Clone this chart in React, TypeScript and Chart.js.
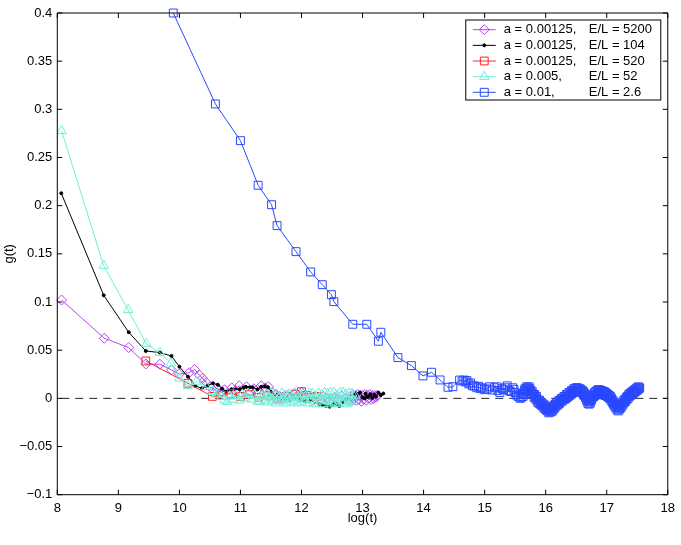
import { useEffect, useRef } from "react";
import { Chart, registerables } from "chart.js";

Chart.register(...registerables);

// tick values
const xTickValues = [8, 9, 10, 11, 12, 13, 14, 15, 16, 17, 18];
const yTickValues = [-0.1, -0.05, 0, 0.05, 0.1, 0.15, 0.2, 0.25, 0.3, 0.35, 0.4];

// legend text
const aLabels = ["a = 0.00125,", "a = 0.00125,", "a = 0.00125,", "a = 0.005,", "a = 0.01,"];
const elLabels = ["E/L = 5200", "E/L = 104", "E/L = 520", "E/L = 52", "E/L = 2.6"];

// a = 0.00125, E/L = 5200
const t5200 = [
  8.07, 8.77, 9.17, 9.45, 9.68, 9.87, 10.0, 10.16, 10.25, 10.33, 10.38, 10.44, 10.5, 10.56,
  10.62, 10.68, 10.74, 10.8, 10.86, 10.92, 10.98, 11.04, 11.1, 11.16, 11.22, 11.28, 11.34,
  11.4, 11.46, 11.52, 11.58, 11.64, 11.7, 11.76, 11.82, 11.88, 11.94, 12.0, 12.06, 12.12,
  12.18, 12.24, 12.3, 12.36, 12.42, 12.48, 12.54, 12.6, 12.66, 12.72, 12.78, 12.8, 12.82,
  12.84, 12.86, 12.88, 12.9, 12.92, 12.94, 12.96, 12.98, 13.0, 13.02, 13.04, 13.06, 13.08,
  13.1, 13.12, 13.14, 13.16, 13.18, 13.2, 13.22, 13.24,
];
const g5200 = [
  0.1021, 0.0624, 0.0527, 0.0357, 0.0354, 0.0295, 0.0253, 0.0267, 0.03, 0.024, 0.0209, 0.0165,
  0.012, 0.008, 0.011, 0.006, 0.009, 0.004, 0.011, 0.008, 0.013, 0.009, 0.012, 0.007, 0.01,
  0.009, 0.013, 0.011, 0.012, 0.006, 0.004, 0.002, 0.0, 0.003, 0.001, 0.005, 0.003, 0.006,
  0.002, 0.0, -0.002, 0.001, -0.001, 0.002, 0.0, -0.002, 0.001, -0.001, 0.002, 0.0, -0.002,
  0.002, -0.002, 0.003, -0.001, 0.003, -0.002, 0.004, -0.001, 0.003, -0.003, 0.003, -0.001,
  0.004, -0.002, 0.003, 0.0, 0.004, -0.001, 0.003, 0.0, 0.003, 0.001, 0.003,
];

// a = 0.00125, E/L = 104
const t104 = [
  8.065, 8.76, 9.17, 9.45, 9.68, 9.87, 10.0, 10.14, 10.26, 10.37, 10.46, 10.55, 10.63, 10.7,
  10.77, 10.85, 10.92, 10.99, 11.05, 11.09, 11.15, 11.2, 11.28, 11.34, 11.4, 11.45, 11.5,
  11.58, 11.66, 11.74, 11.82, 11.9, 11.98, 12.06, 12.14, 12.22, 12.3, 12.35, 12.4, 12.46,
  12.52, 12.57, 12.62, 12.68, 12.74, 12.8, 12.86, 12.89, 12.92, 12.96, 13.0, 13.03, 13.05,
  13.08, 13.1, 13.13, 13.16, 13.19, 13.22, 13.26, 13.3, 13.34,
];
const g104 = [
  0.2129, 0.107, 0.0686, 0.0492, 0.0475, 0.044, 0.0329, 0.0225, 0.0129, 0.0105, 0.013, 0.0157,
  0.014, 0.01, 0.007, 0.0094, 0.0094, 0.0094, 0.011, 0.012, 0.0115, 0.0115, 0.0094, 0.012,
  0.0125, 0.0115, 0.007, 0.0035, 0.002, 0.0, -0.001, 0.001, -0.002, -0.003, -0.002, -0.004,
  -0.006, -0.0068, -0.008, -0.0086, -0.007, -0.0058, -0.008, -0.004, -0.001, 0.002, 0.0035,
  0.0055, 0.004, 0.006, 0.001, 0.0, 0.005, 0.0015, 0.002, 0.0045, 0.0005, 0.004, 0.002,
  0.006, 0.0035, 0.005,
];

// a = 0.00125, E/L = 520
const t520 = [9.45, 10.14, 10.54, 10.7, 10.85, 11.0, 11.15, 11.3, 11.45, 11.6, 11.75, 11.9, 12.0, 12.08, 12.15, 12.25];
const g520 = [0.0388, 0.0157, 0.002, 0.003, 0.005, 0.002, 0.004, 0.001, 0.003, 0.0, 0.002, 0.004, 0.007, 0.003, 0.001, 0.002];

// a = 0.005, E/L = 52
const t52 = [
  8.07, 8.76, 9.16, 9.46, 9.68, 9.86, 10.0, 10.14, 10.28, 10.44, 10.55, 10.62, 10.69, 10.74,
  10.78, 10.83, 10.88, 10.93, 10.98, 11.03, 11.08, 11.13, 11.18, 11.23, 11.28, 11.31, 11.35,
  11.38, 11.4, 11.43, 11.45, 11.48, 11.5, 11.53, 11.55, 11.58, 11.6, 11.63, 11.65, 11.68,
  11.7, 11.73, 11.75, 11.78, 11.8, 11.83, 11.85, 11.88, 11.9, 11.93, 11.95, 11.98, 12.0,
  12.03, 12.05, 12.08, 12.1, 12.13, 12.15, 12.18, 12.2, 12.23, 12.25, 12.28, 12.3, 12.33,
  12.35, 12.38, 12.4, 12.43, 12.45, 12.48, 12.5, 12.53, 12.55, 12.58, 12.6, 12.63, 12.65,
  12.68, 12.7, 12.73, 12.75, 12.78, 12.8, 12.83, 12.85, 12.88,
];
const g52 = [
  0.2776, 0.1378, 0.0918, 0.0565, 0.0475, 0.0364, 0.0208, 0.0129, 0.0174, 0.0121, 0.007,
  0.004, 0.0018, -0.002, -0.0034, 0.002, -0.001, 0.003, -0.002, 0.004, 0.0, 0.005, -0.001,
  0.003, -0.003, -0.0035, 0.002, 0.003, -0.002, 0.004, -0.004, 0.001, 0.005, -0.003, 0.002,
  -0.005, 0.004, 0.0, -0.003, 0.005, -0.002, 0.003, -0.005, 0.001, 0.004, -0.004, 0.002,
  -0.002, 0.005, -0.005, 0.001, 0.004, -0.004, 0.005, -0.002, 0.003, -0.005, 0.005, -0.001,
  0.005, -0.005, 0.002, -0.006, 0.005, -0.003, 0.004, -0.006, 0.006, -0.002, 0.005, -0.006,
  0.006, -0.004, 0.006, -0.005, 0.003, -0.006, 0.006, -0.003, 0.006, -0.005, 0.004, -0.006,
  0.005, -0.004, 0.005, -0.002, 0.003,
];

// a = 0.01, E/L = 2.6
const t26 = [
  9.9, 10.59, 11.0, 11.29, 11.51, 11.6, 11.91, 12.15, 12.34, 12.49, 12.53, 12.84, 13.07,
  13.26, 13.3, 13.58, 13.8, 13.99, 14.13, 14.27, 14.4, 14.48, 14.59, 14.63, 14.66, 14.69,
  14.71, 14.74, 14.77, 14.8, 14.83, 14.87, 14.9, 14.93, 14.96, 15.0, 15.04, 15.08, 15.12,
  15.16, 15.2, 15.22, 15.25, 15.28, 15.31, 15.34, 15.37, 15.4, 15.43, 15.46, 15.48, 15.5,
  15.52, 15.55, 15.58,
  15.6, 15.61, 15.62, 15.63, 15.64, 15.65, 15.66, 15.67, 15.68, 15.69,
  15.7, 15.71, 15.72, 15.73, 15.74, 15.75, 15.76, 15.77, 15.78, 15.79,
  15.8, 15.81, 15.82, 15.83, 15.84, 15.85, 15.86, 15.87, 15.88, 15.89,
  15.9, 15.91, 15.92, 15.93, 15.94, 15.95, 15.96, 15.97, 15.98, 15.99,
  16.0, 16.01, 16.02, 16.03, 16.04, 16.05, 16.06, 16.07, 16.08, 16.09,
  16.1, 16.11, 16.12, 16.13, 16.14, 16.15, 16.16, 16.17, 16.18, 16.19,
  16.2, 16.21, 16.22, 16.23, 16.24, 16.25, 16.26, 16.27, 16.28, 16.29,
  16.3, 16.31, 16.32, 16.33, 16.34, 16.35, 16.36, 16.37, 16.38, 16.39,
  16.4, 16.41, 16.42, 16.43, 16.44, 16.45, 16.46, 16.47, 16.48, 16.49,
  16.5, 16.51, 16.52, 16.53, 16.54, 16.55, 16.56, 16.57, 16.58, 16.59,
  16.6, 16.61, 16.62, 16.63, 16.64, 16.65, 16.66, 16.67, 16.68, 16.69,
  16.7, 16.71, 16.72, 16.73, 16.74, 16.75, 16.76, 16.77, 16.78, 16.79,
  16.8, 16.81, 16.82, 16.83, 16.84, 16.85, 16.86, 16.87, 16.88, 16.89,
  16.9, 16.91, 16.92, 16.93, 16.94, 16.95, 16.96, 16.97, 16.98, 16.99,
  17.0, 17.01, 17.02, 17.03, 17.04, 17.05, 17.06, 17.07, 17.08, 17.09,
  17.1, 17.11, 17.12, 17.13, 17.14, 17.15, 17.16, 17.17, 17.18, 17.19,
  17.2, 17.21, 17.22, 17.23, 17.24, 17.25, 17.26, 17.27, 17.28, 17.29,
  17.3, 17.31, 17.32, 17.33, 17.34, 17.35, 17.36, 17.37, 17.38, 17.39,
  17.4, 17.41, 17.42, 17.43, 17.44, 17.45, 17.46, 17.47, 17.48, 17.49,
  17.5, 17.51, 17.52, 17.53, 17.54,
];
const g26 = [
  0.4, 0.3056, 0.2675, 0.2212, 0.201, 0.1793, 0.1523, 0.1312, 0.118, 0.1076, 0.1004, 0.0769,
  0.0769, 0.0593, 0.0686, 0.0423, 0.034, 0.0233, 0.0271, 0.0191, 0.0115, 0.0121, 0.019,
  0.018, 0.019, 0.017, 0.0185, 0.015, 0.016, 0.013, 0.0129, 0.011, 0.0125, 0.01, 0.011,
  0.009, 0.0098, 0.012, 0.0087, 0.011, 0.012, 0.008, 0.006, 0.01, 0.009, 0.011, 0.013,
  0.008, 0.007, 0.011, 0.0094, 0.006, 0.0035, 0.002, 0.0,
  0.001, 0.004, 0.005, 0.002, 0.004, 0.008, 0.01, 0.007, 0.009, 0.012,
  0.011, 0.008, 0.01, 0.012, 0.01, 0.007, 0.008, 0.005, 0.007, 0.004,
  0.004, 0.001, 0.004, 0.001, -0.001, 0.002, -0.001, -0.004, -0.002, -0.005,
  -0.002, -0.006, -0.004, -0.007, -0.005, -0.008, -0.006, -0.01, -0.007, -0.011,
  -0.009, -0.012, -0.009, -0.013, -0.011, -0.015, -0.011, -0.014, -0.012, -0.014,
  -0.01, -0.013, -0.009, -0.011, -0.007, -0.01, -0.006, -0.008, -0.004, -0.007,
  -0.004, -0.006, -0.002, -0.005, -0.002, -0.003, 0.0, -0.003, 0.0, -0.001,
  0.002, -0.001, 0.002, 0.0, 0.004, 0.001, 0.004, 0.002, 0.006, 0.003,
  0.006, 0.004, 0.008, 0.005, 0.008, 0.006, 0.01, 0.007, 0.01, 0.008,
  0.011, 0.008, 0.011, 0.008, 0.01, 0.007, 0.01, 0.007, 0.009, 0.006,
  0.008, 0.005, 0.007, 0.003, 0.005, 0.001, 0.003, -0.002, 0.0, -0.005,
  -0.003, -0.006, -0.003, -0.005, -0.001, -0.002, 0.002, 0.001, 0.004, 0.002,
  0.006, 0.003, 0.007, 0.004, 0.008, 0.005, 0.009, 0.006, 0.009, 0.006,
  0.008, 0.005, 0.008, 0.004, 0.007, 0.004, 0.007, 0.003, 0.006, 0.003,
  0.005, 0.002, 0.004, 0.001, 0.003, 0.0, 0.002, -0.002, 0.0, -0.004,
  -0.002, -0.006, -0.004, -0.008, -0.006, -0.01, -0.007, -0.012, -0.009, -0.013,
  -0.009, -0.011, -0.007, -0.01, -0.006, -0.008, -0.004, -0.006, -0.002, -0.004,
  -0.001, -0.003, 0.001, -0.001, 0.002, 0.0, 0.004, 0.002, 0.005, 0.003,
  0.006, 0.004, 0.007, 0.005, 0.008, 0.006, 0.009, 0.007, 0.01, 0.008,
  0.011, 0.009, 0.012, 0.01, 0.011,
];

const FONT = "Liberation Sans, Arial, sans-serif";

const pts = (t: number[], g: number[]) => t.map((x, i) => ({ x, y: g[i] }));

function fmtY(v: number) {
  const r = Math.round(v * 100) / 100;
  if (r === 0) return "0";
  return r < 0 ? "\u2212" + String(Math.abs(r)) : String(r);
}

function drawMarker(
  ctx: CanvasRenderingContext2D,
  style: string,
  x: number,
  y: number,
  r: number,
  color: string,
  fill: string
) {
  ctx.beginPath();
  if (style === "rectRot") {
    ctx.moveTo(x, y - r);
    ctx.lineTo(x + r, y);
    ctx.lineTo(x, y + r);
    ctx.lineTo(x - r, y);
    ctx.closePath();
  } else if (style === "rect") {
    const s = r * Math.SQRT1_2;
    ctx.rect(x - s, y - s, 2 * s, 2 * s);
  } else if (style === "triangle") {
    ctx.moveTo(x, y - r);
    ctx.lineTo(x + r * 0.866, y + r * 0.5);
    ctx.lineTo(x - r * 0.866, y + r * 0.5);
    ctx.closePath();
  } else {
    ctx.arc(x, y, r, 0, Math.PI * 2);
  }
  ctx.fillStyle = fill;
  ctx.fill();
  ctx.strokeStyle = color;
  ctx.lineWidth = 1;
  ctx.stroke();
}

// dashed zero line
const zeroLine = {
  id: "zeroLine",
  beforeDatasetsDraw(chart: any) {
    const { ctx, chartArea } = chart;
    const y = chart.scales.y.getPixelForValue(0);
    ctx.save();
    ctx.strokeStyle = "#222";
    ctx.lineWidth = 1;
    ctx.setLineDash([8, 6]);
    ctx.lineDashOffset = -4;
    ctx.beginPath();
    ctx.moveTo(chartArea.left, y);
    ctx.lineTo(chartArea.right, y);
    ctx.stroke();
    ctx.restore();
  },
};

// box with inward ticks on all sides
const frame = {
  id: "frame",
  afterDatasetsDraw(chart: any) {
    const { ctx, chartArea: a } = chart;
    const xs = chart.scales.x;
    const ys = chart.scales.y;
    const len = 5;
    ctx.save();
    ctx.strokeStyle = "#000";
    ctx.lineWidth = 1;
    ctx.beginPath();
    ctx.rect(a.left, a.top, a.right - a.left, a.bottom - a.top);
    xTickValues.forEach((v) => {
      const px = xs.getPixelForValue(v);
      ctx.moveTo(px, a.bottom);
      ctx.lineTo(px, a.bottom - len);
      ctx.moveTo(px, a.top);
      ctx.lineTo(px, a.top + len);
    });
    yTickValues.forEach((v) => {
      const py = ys.getPixelForValue(v);
      ctx.moveTo(a.left, py);
      ctx.lineTo(a.left + len, py);
      ctx.moveTo(a.right, py);
      ctx.lineTo(a.right - len, py);
    });
    ctx.stroke();
    ctx.restore();
  },
};

// legend inside the plot, top right
const insideLegend = {
  id: "insideLegend",
  afterDraw(chart: any) {
    const { ctx, chartArea: a } = chart;
    const w = 195;
    const h = 80;
    const x0 = a.right - 7 - w;
    const y0 = a.top + 7;
    const rowH = 15.65;
    ctx.save();
    ctx.fillStyle = "#fff";
    ctx.fillRect(x0, y0, w, h);
    ctx.strokeStyle = "#000";
    ctx.lineWidth = 1;
    ctx.strokeRect(x0, y0, w, h);
    ctx.font = "13px " + FONT;
    ctx.textBaseline = "middle";
    const ds = [...chart.data.datasets].sort((p: any, q: any) => q.order - p.order);
    ds.forEach((d: any, i: number) => {
      const cy = y0 + 9.7 + i * rowH;
      ctx.strokeStyle = d.borderColor;
      ctx.lineWidth = 1;
      ctx.beginPath();
      ctx.moveTo(x0 + 7, cy);
      ctx.lineTo(x0 + 30, cy);
      ctx.stroke();
      drawMarker(ctx, d.pointStyle, x0 + 18.5, cy, d.pointRadius, d.borderColor, d.pointBackgroundColor);
      ctx.fillStyle = "#000";
      ctx.fillText(aLabels[i], x0 + 38, cy);
      ctx.fillText(elLabels[i], x0 + 123, cy);
    });
    ctx.restore();
  },
};

export default function App() {
  const canvasRef = useRef<HTMLCanvasElement>(null);
  const chartRef = useRef<Chart | null>(null);

  useEffect(() => {
    if (!canvasRef.current) return;
    if (chartRef.current) chartRef.current.destroy();

    const series = (
      t: number[],
      g: number[],
      color: string,
      style: string,
      radius: number,
      fill: string,
      order: number
    ) => ({
      data: pts(t, g),
      borderColor: color,
      borderWidth: 1,
      pointStyle: style,
      pointRadius: radius,
      pointBorderWidth: 1,
      pointBorderColor: color,
      pointBackgroundColor: fill,
      tension: 0,
      clip: false as any,
      order,
    });

    chartRef.current = new Chart(canvasRef.current, {
      type: "line",
      data: {
        datasets: [
          series(t5200, g5200, "#b446f2", "rectRot", 5, "rgba(0,0,0,0)", 5),
          series(t104, g104, "#000000", "circle", 1.5, "#000000", 4),
          series(t520, g520, "#ff2424", "rect", 5.5, "rgba(0,0,0,0)", 3),
          series(t52, g52, "#6ff0d6", "triangle", 5.5, "rgba(0,0,0,0)", 2),
          series(t26, g26, "#2a48ff", "rect", 5.6, "rgba(0,0,0,0)", 1),
        ] as any,
      },
      options: {
        responsive: true,
        maintainAspectRatio: false,
        animation: false,
        layout: { padding: { top: 13, right: 12, left: 0, bottom: 0 } },
        plugins: {
          legend: { display: false },
          tooltip: { enabled: false },
        },
        scales: {
          x: {
            type: "linear",
            min: 8,
            max: 18,
            afterBuildTicks: (s: any) => {
              s.ticks = xTickValues.map((value) => ({ value }));
            },
            afterFit: (s: any) => {
              s.height = 50.3;
            },
            grid: { display: false, drawTicks: false },
            border: { display: false },
            ticks: {
              color: "#000",
              padding: 6,
              maxRotation: 0,
              font: { family: FONT, size: 13 },
              callback: (v: any) => String(v),
            },
            title: {
              display: true,
              text: "log(t)",
              color: "#000",
              font: { family: FONT, size: 13 },
              padding: { top: 0, bottom: 19 },
            },
          },
          y: {
            type: "linear",
            min: -0.1,
            max: 0.4,
            afterBuildTicks: (s: any) => {
              s.ticks = yTickValues.map((value) => ({ value }));
            },
            afterFit: (s: any) => {
              s.width = 57.3;
            },
            grid: { display: false, drawTicks: false },
            border: { display: false },
            ticks: {
              color: "#000",
              padding: 5,
              font: { family: FONT, size: 13 },
              callback: (v: any) => fmtY(Number(v)),
            },
            title: {
              display: true,
              text: "g(t)",
              color: "#000",
              font: { family: FONT, size: 13 },
              padding: { top: 2, bottom: 0 },
            },
          },
        },
      },
      plugins: [zeroLine, frame, insideLegend],
    });

    return () => {
      chartRef.current?.destroy();
      chartRef.current = null;
    };
  }, []);

  return (
    <div style={{ position: "fixed", left: 0, top: 0, width: 681, height: 545, background: "#fff" }}>
      <canvas ref={canvasRef} />
    </div>
  );
}
